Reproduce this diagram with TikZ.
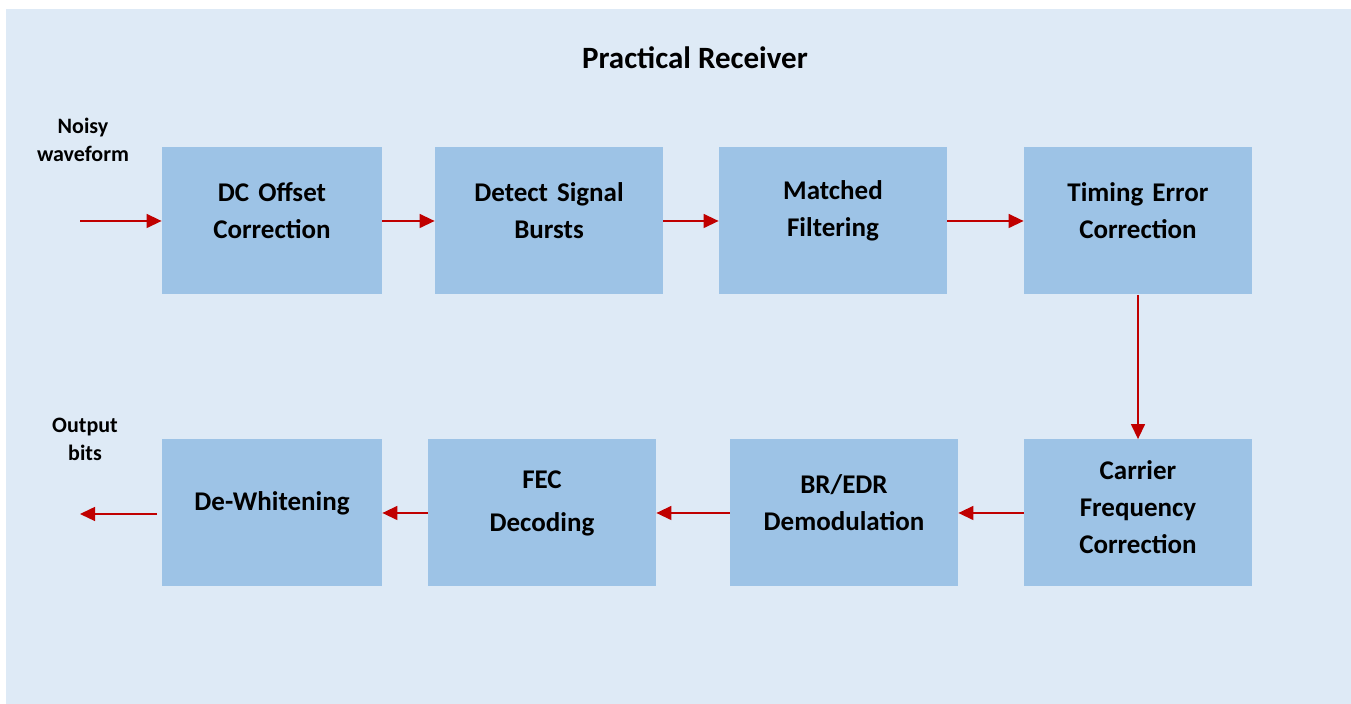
\documentclass[tikz,border=0pt]{standalone}
\usepackage{fontspec}
\setmainfont{Carlito}
\usetikzlibrary{positioning,arrows.meta}
\definecolor{bgblue}{HTML}{DEEAF6}
\definecolor{boxblue}{HTML}{9DC3E6}
\definecolor{arrowred}{HTML}{C00000}

\begin{document}
\begin{tikzpicture}[x=0.5pt,y=-0.5pt,
    block/.style={rectangle,fill=boxblue,minimum width=114pt,minimum height=73.5pt,
        inner sep=0pt,text width=110pt,align=center,
        font=\fontsize{13.5}{18.5}\selectfont\bfseries,
        execute at end node={\endgraf\vspace*{#1}}},
    block/.default=10pt,
    narrow/.style={minimum width=110pt},
    tag/.style={align=center,inner sep=0pt,font=\fontsize{11}{14}\selectfont\bfseries},
    flow/.style={draw=arrowred,line width=0.7pt,-{Triangle[length=7.5pt,width=7pt]}}
    ]
\useasboundingbox (0,0) rectangle (1351,704);
\fill[bgblue] (6,9) rectangle (1351,704);
\node[font=\fontsize{15.5}{18}\selectfont\bfseries] (title) at (695,58) {Practical Receiver};
% top row
\node[block,narrow] (dcoff) at (272,221) {DC Offset\\Correction};
\node[block] (burst) at (549,221) {Detect Signal\\Bursts};
\node[block] (match) at (833,221) {Matched\\Filtering};
\node[block] (timing) at (1138,221) {Timing Error\\Correction};
% bottom row
\node[block=6pt] (carrier) at (1138,513) {Carrier\\Frequency\\Correction};
\node[block] (demod) at (844,513) {BR/EDR\\Demodulation};
\node[block] (fec) at (542,513) {FEC\\[3pt]Decoding};
\node[block,narrow] (dewhite) at (272,513) {De-Whitening};
% in and out
\node[tag] (noisy) at (83,140) {Noisy\\waveform};
\node[tag] (outbits) at (85,439) {Output\\bits};
\coordinate (src) at (80,221);
\coordinate (sink) at (80,514);
\coordinate (dwout) at (157,514);
\draw[flow] (src) -- (dcoff.west);
\draw[flow] (dcoff) -- (burst);
\draw[flow] (burst) -- (match);
\draw[flow] (match) -- (timing);
\draw[flow] (timing) -- (carrier);
\draw[flow] (carrier) -- (demod);
\draw[flow] (demod) -- (fec);
\draw[flow] (fec) -- (dewhite);
\draw[flow] (dwout) -- (sink);
\end{tikzpicture}
\end{document}
